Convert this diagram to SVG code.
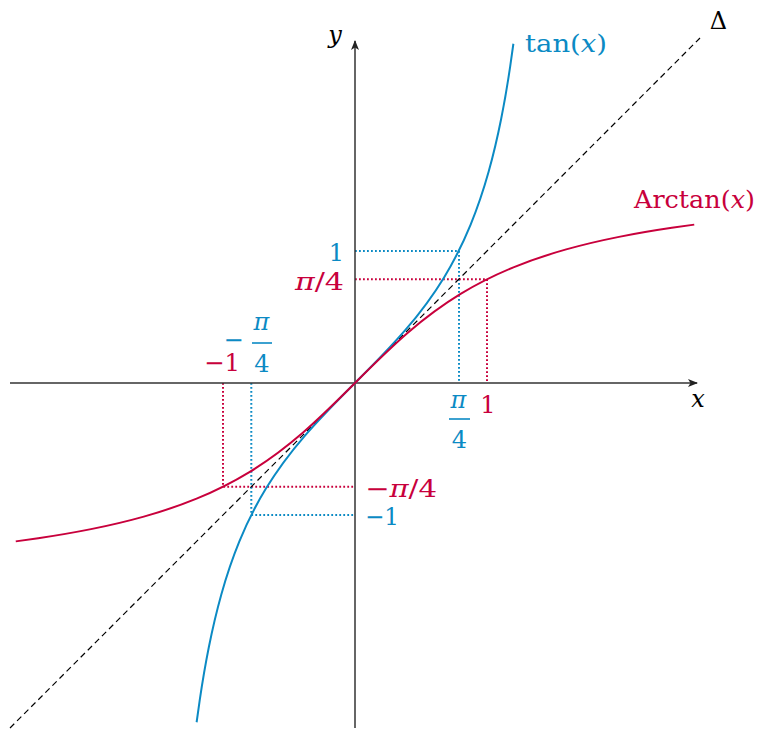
<svg xmlns="http://www.w3.org/2000/svg" width="761" height="729" viewBox="0 0 761 729">
<defs>
<style>
text{font-family:"DejaVu Serif","Liberation Serif",serif;font-size:24px}
.b{fill:#0b8ac4}
.r{fill:#c8003c}
.k{fill:#000}
.it{font-style:italic}
.axis{stroke:#333;stroke-width:1.5;fill:none}
.dotb{stroke:#0b8ac4;stroke-width:2;stroke-dasharray:1.8 2.2;fill:none}
.dotr{stroke:#c8003c;stroke-width:2;stroke-dasharray:1.8 2.2;fill:none}
.diag{stroke:#000;stroke-width:1.2;stroke-dasharray:6 4;fill:none}
.tan{stroke:#0b8ac4;stroke-width:2;fill:none}
.atan{stroke:#c8003c;stroke-width:2;fill:none}
.bar{stroke-width:1.6}
</style>
<marker id="arr" viewBox="0 0 10 8" refX="9" refY="4" markerWidth="10" markerHeight="8" markerUnits="userSpaceOnUse" orient="auto">
<path d="M0,0 L10,4 L0,8 L2.5,4 Z" fill="#222"/>
</marker>
</defs>
<rect width="761" height="729" fill="#fff"/>
<g id="connectors">
<g id="guides">
<path class="dotb" d="M355,251 H459 V383"/>
<path class="dotr" d="M355,279.3 H487 V383"/>
<path class="dotr" d="M223,383 V486.7 H355"/>
<path class="dotb" d="M251.3,383 V515 H355"/>
</g>
<g id="axes">
<path class="axis" d="M10,383 H697" marker-end="url(#arr)"/>
<path class="axis" stroke="#111" d="M355,728 V41" marker-end="url(#arr)"/>
</g>
<path id="delta" class="diag" d="M10,728 L700,38"/>
<path id="tan-curve" class="tan" d="M196.62,722.24 C197.60,714.76 198.66,707.28 199.77,699.8 C202.37,682.2 205.34,664.6 208.86,647 C212.38,629.4 216.45,611.8 221.39,594.2 C226.33,576.6 232.15,559.0 239.36,541.4 C246.57,523.8 255.20,506.2 265.93,488.6 C276.66,471.0 289.60,453.4 304.77,435.8 C319.94,418.2 337.4,400.6 355,383 C372.6,365.4 390.06,347.8 405.23,330.2 C420.40,312.6 433.34,295.0 444.07,277.4 C454.80,259.8 463.43,242.2 470.64,224.6 C477.85,207.0 483.67,189.4 488.61,171.8 C493.55,154.2 497.62,136.6 501.14,119 C504.66,101.4 507.63,83.8 510.23,66.2 C511.34,58.72 512.40,51.24 513.38,43.76"/>
<path id="arctan-curve" class="atan" d="M15.76,541.38 C23.24,540.40 30.72,539.34 38.2,538.23 C55.8,535.63 73.4,532.66 91,529.14 C108.6,525.62 126.2,521.55 143.8,516.61 C161.4,511.67 179.0,505.85 196.6,498.64 C214.2,491.43 231.8,482.80 249.4,472.07 C267.0,461.34 284.6,448.40 302.2,433.23 C319.8,418.06 337.4,400.6 355,383 C372.6,365.4 390.2,347.94 407.8,332.77 C425.4,317.60 443.0,304.66 460.6,293.93 C478.2,283.20 495.8,274.57 513.4,267.36 C531.0,260.15 548.6,254.33 566.2,249.39 C583.8,244.45 601.4,240.38 619,236.86 C636.6,233.34 654.2,230.37 671.8,227.77 C679.28,226.66 686.76,225.60 694.24,224.62"/>
</g>
<g id="label-y"><text class="k it" x="335" y="43" text-anchor="middle" font-size="26">y</text></g>
<g id="label-x"><text class="k it" x="698" y="407" text-anchor="middle" font-size="26">x</text></g>
<g id="label-delta"><text class="k" x="718.5" y="29" text-anchor="middle" font-size="22">Δ</text></g>
<g id="label-tan"><text class="b" x="525" y="52" font-size="24" textLength="82" lengthAdjust="spacingAndGlyphs">tan(<tspan class="it">x</tspan>)</text></g>
<g id="label-arctan"><text class="r" x="634" y="208" font-size="24" textLength="121" lengthAdjust="spacingAndGlyphs">Arctan(<tspan class="it">x</tspan>)</text></g>
<g id="label-1-y"><text class="b" x="344" y="261" text-anchor="end" font-size="27">1</text></g>
<g id="label-pi4-y"><text class="r" x="295" y="290" font-size="27" textLength="49" lengthAdjust="spacingAndGlyphs"><tspan class="it">π</tspan>/4</text></g>
<g id="label-1-x"><text class="r" x="488" y="413" text-anchor="middle" font-size="27">1</text></g>
<g id="label-pi4-x">
<text class="b it" x="458.5" y="408" text-anchor="middle" font-size="25">π</text>
<line class="bar" x1="449" y1="419" x2="470" y2="419" stroke="#0b8ac4"/>
<text class="b" x="459.5" y="448" text-anchor="middle" font-size="24">4</text>
</g>
<g id="label-m1-x"><text class="r" x="204" y="371" font-size="27" textLength="36" lengthAdjust="spacingAndGlyphs">−1</text></g>
<g id="label-mpi4-x">
<text class="b" x="233.5" y="348" text-anchor="middle" font-size="14">−</text>
<text class="b it" x="261.5" y="330" text-anchor="middle" font-size="25">π</text>
<line class="bar" x1="252" y1="343" x2="272" y2="343" stroke="#0b8ac4"/>
<text class="b" x="262" y="372" text-anchor="middle" font-size="24">4</text>
</g>
<g id="label-mpi4-y"><text class="r" x="365" y="497" font-size="27" textLength="72" lengthAdjust="spacingAndGlyphs">−<tspan class="it">π</tspan>/4</text></g>
<g id="label-m1-y"><text class="b" x="365" y="525" font-size="27" textLength="34" lengthAdjust="spacingAndGlyphs">−1</text></g>
</svg>
